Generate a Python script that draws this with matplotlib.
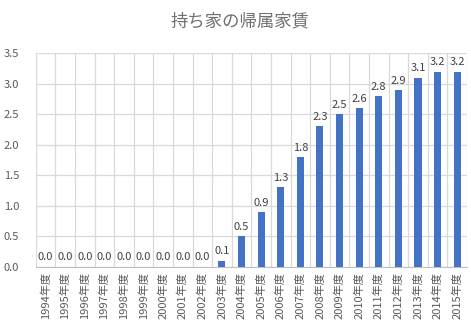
import matplotlib.pyplot as plt
import numpy as np

plt.rcParams['font.family'] = ['Noto Sans CJK JP', 'DejaVu Sans']

years = [f"{y}年度" for y in range(1994, 2016)]
rent = [0.0, 0.0, 0.0, 0.0, 0.0, 0.0, 0.0, 0.0, 0.0, 0.1, 0.5,
        0.9, 1.3, 1.8, 2.3, 2.5, 2.6, 2.8, 2.9, 3.1, 3.2, 3.2]
yticks = [0.0, 0.5, 1.0, 1.5, 2.0, 2.5, 3.0, 3.5]

fig = plt.figure(figsize=(4.71, 3.28), dpi=100)
ax = fig.add_axes([0.0758, 0.187, 0.9157, 0.6505])

x = np.arange(len(years))
ax.bar(x, rent, width=0.36, color='#4472C4', zorder=3)
for xi, v in zip(x, rent):
    ax.text(xi, v + 0.07, f"{v:.1f}", ha='center', va='bottom',
            fontsize=8, color='#404040', zorder=4)

ax.set_xlim(-0.5, len(years) - 0.5)
ax.set_ylim(0, 3.5)
ax.set_yticks(yticks)
ax.set_yticklabels([f"{t:.1f}" for t in yticks], fontsize=8, color='#595959')
ax.set_xticks(x)
ax.set_xticklabels(years, rotation=90, fontsize=8, color='#595959')
ax.set_xticks(np.arange(-0.5, len(years)), minor=True)
ax.tick_params(axis='both', which='both', length=0)
ax.tick_params(axis='y', pad=12)
ax.tick_params(axis='x', pad=4)

ax.grid(axis='y', which='major', color='#D9D9D9', linewidth=0.9, zorder=0)
ax.grid(axis='x', which='minor', color='#D9D9D9', linewidth=0.9, zorder=0)
ax.grid(axis='x', which='major', visible=False)
for side in ['top', 'right', 'left']:
    ax.spines[side].set_visible(False)
ax.spines['bottom'].set_color('#BFBFBF')

fig.text(0.51, 0.935, "持ち家の帰属家賃", ha='center', va='center',
         fontsize=12.5, color='#6F6F6F')

fig.savefig('out.png', dpi=100)
